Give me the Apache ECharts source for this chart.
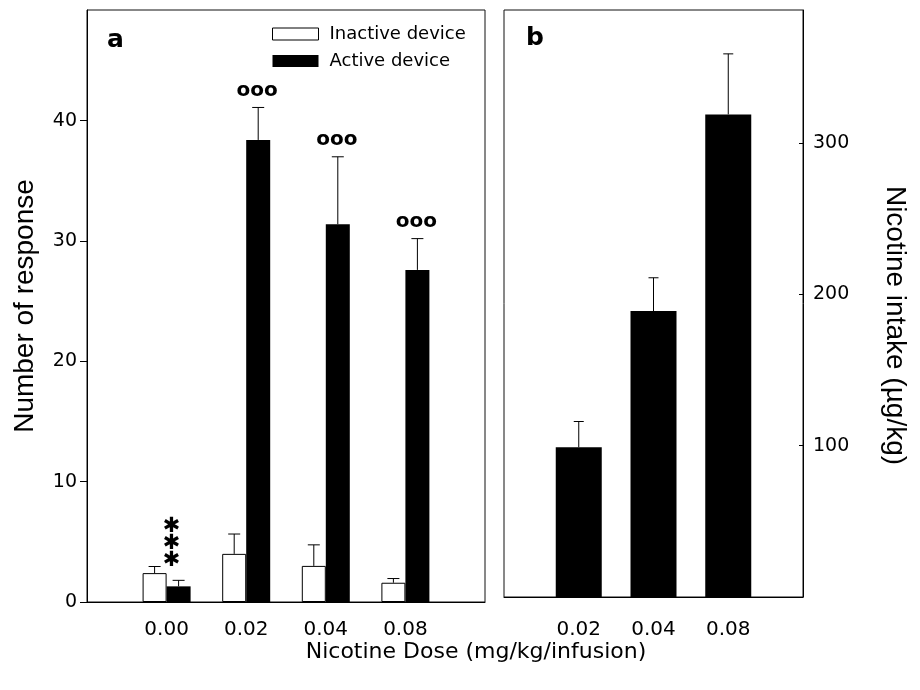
<!DOCTYPE html>
<html>
<head>
<meta charset="utf-8">
<script src="https://cdn.jsdelivr.net/npm/echarts@6/dist/echarts.min.js"></script>
<style>
  html, body { margin: 0; padding: 0; background: #fff; }
  #main { width: 920px; height: 690px; }
</style>
</head>
<body>
<div id="main"></div>
<script>
// panel a: responses per dose
var dosesA = ['0.00', '0.02', '0.04', '0.08'];
var inactiveMean = [2.4, 4.0, 3.0, 1.6];
var inactiveSem = [0.55, 1.65, 1.75, 0.35];
var activeMean = [1.3, 38.4, 31.4, 27.6];
var activeSem = [0.5, 2.7, 5.6, 2.6];
var activeMarks = ['***', 'ooo', 'ooo', 'ooo'];

// panel b: nicotine intake
var dosesB = ['0.02', '0.04', '0.08'];
var intakeMean = [99, 189, 319];
var intakeSem = [17, 22, 40];

var ticksA = [0, 10, 20, 30, 40];
var ticksB = [100, 200, 300];

var chartDom = document.getElementById('main');
var myChart = echarts.init(chartDom);
var option;

var sans = '"DejaVu Sans", sans-serif';
var arial = '"Liberation Sans", Arial, sans-serif';

function padCats(arr) {
    return [''].concat(arr, [' ']);
}
function pairs(arr) {
    return arr.map(function (v, i) { return [i + 1, v]; });
}
function errData(mean, sem) {
    return mean.map(function (v, i) { return [i + 1, v, sem[i]]; });
}

function errRenderer(offset, half, marks) {
    return function (params, api) {
        var x = api.value(0), m = api.value(1), s = api.value(2);
        var p0 = api.coord([x, m]);
        var p1 = api.coord([x, m + s]);
        var cx = p0[0] + offset;
        var children = [
            { type: 'line', shape: { x1: cx, y1: p0[1], x2: cx, y2: p1[1] }, style: { stroke: '#000', lineWidth: 1 } },
            { type: 'line', shape: { x1: cx - half, y1: p1[1], x2: cx + half, y2: p1[1] }, style: { stroke: '#000', lineWidth: 1 } }
        ];
        var mark = marks ? marks[params.dataIndex] : null;
        if (mark === 'ooo') {
            children.push({ type: 'text', x: cx - 1, y: p1[1] - 17,
                style: { text: 'ooo', fill: '#000', font: 'bold 20px ' + sans, align: 'center', verticalAlign: 'middle' } });
        } else if (mark === '***') {
            for (var k = 0; k < 3; k++) {
                children.push({ type: 'text', x: cx - 7, y: p1[1] - 20 - k * 16.7,
                    style: { text: '\u2731', fill: '#000', font: '21px ' + sans, align: 'center', verticalAlign: 'middle' } });
            }
        }
        return { type: 'group', children: children };
    };
}

option = {
    backgroundColor: '#fff',
    animation: false,
    legend: {
        orient: 'vertical',
        left: 272,
        top: 25,
        padding: 0,
        itemWidth: 46,
        itemHeight: 12,
        itemGap: 9,
        textStyle: { fontFamily: sans, fontSize: 18, color: '#000', padding: [0, 0, 0, 6] },
        data: [
            { name: 'Inactive device', icon: 'rect', itemStyle: { color: '#fff', borderColor: '#000', borderWidth: 1 } },
            { name: 'Active device', icon: 'rect', itemStyle: { color: '#000' } }
        ]
    },
    grid: [
        { left: 87, top: 10, width: 398, height: 592, show: true, borderColor: '#111', borderWidth: 1 },
        { left: 504, top: 10, width: 299, height: 587, show: true, borderColor: '#111', borderWidth: 1 }
    ],
    xAxis: [
        {
            type: 'category', gridIndex: 0, data: padCats(dosesA), boundaryGap: false,
            axisLine: { lineStyle: { color: '#000' } },
            axisTick: { show: false },
            axisLabel: { interval: 0, margin: 18, color: '#000', fontFamily: sans, fontSize: 20 },
            splitLine: { show: false }
        },
        {
            type: 'category', gridIndex: 1, data: padCats(dosesB), boundaryGap: false,
            axisLine: { lineStyle: { color: '#000' } },
            axisTick: { show: false },
            axisLabel: { interval: 0, margin: 23, color: '#000', fontFamily: sans, fontSize: 20 },
            splitLine: { show: false }
        }
    ],
    yAxis: [
        {
            type: 'value', gridIndex: 0, min: 0, max: 49.2, interval: 10,
            name: 'Number of response', nameLocation: 'middle', nameGap: 48,
            nameTextStyle: { fontFamily: arial, fontSize: 28, color: '#000' },
            axisLine: { show: true, lineStyle: { color: '#000' } },
            axisTick: { show: true, inside: false, length: 7, customValues: ticksA, lineStyle: { color: '#000' } },
            axisLabel: { margin: 10, color: '#000', fontFamily: sans, fontSize: 19, customValues: ticksA },
            splitLine: { show: false }
        },
        {
            type: 'value', gridIndex: 1, position: 'right', min: 0, max: 388, interval: 100,
            name: 'Nicotine intake (\u00b5g/kg)', nameLocation: 'middle', nameGap: 78, nameRotate: -90,
            nameTextStyle: { fontFamily: arial, fontSize: 28, color: '#000', padding: [0, 0, 0, 44] },
            axisLine: { show: true, lineStyle: { color: '#000' } },
            axisTick: { show: true, inside: true, length: 4, customValues: ticksB, lineStyle: { color: '#000' } },
            axisLabel: { margin: 10, color: '#000', fontFamily: sans, fontSize: 19, customValues: ticksB },
            splitLine: { show: false }
        }
    ],
    graphic: [
        { type: 'text', left: 107, top: 28, style: { text: 'a', fill: '#000', font: 'bold 25px ' + sans } },
        { type: 'text', left: 526, top: 26, style: { text: 'b', fill: '#000', font: 'bold 25px ' + sans } },
        { type: 'text', x: 476, y: 652, style: { text: 'Nicotine Dose (mg/kg/infusion)', fill: '#000', font: '22px ' + sans, align: 'center', verticalAlign: 'middle' } }
    ],
    series: [
        {
            name: 'Inactive device', type: 'bar', xAxisIndex: 0, yAxisIndex: 0,
            barWidth: 24, barGap: '0%',
            itemStyle: { color: '#fff', borderColor: '#000', borderWidth: 1 },
            data: pairs(inactiveMean)
        },
        {
            name: 'Active device', type: 'bar', xAxisIndex: 0, yAxisIndex: 0,
            barWidth: 24, barGap: '0%',
            itemStyle: { color: '#000' },
            data: pairs(activeMean)
        },
        {
            name: 'inactiveErr', type: 'custom', xAxisIndex: 0, yAxisIndex: 0, z: 5,
            renderItem: errRenderer(-12, 6, null),
            data: errData(inactiveMean, inactiveSem)
        },
        {
            name: 'activeErr', type: 'custom', xAxisIndex: 0, yAxisIndex: 0, z: 5,
            renderItem: errRenderer(12, 6, activeMarks),
            data: errData(activeMean, activeSem)
        },
        {
            name: 'Intake', type: 'bar', xAxisIndex: 1, yAxisIndex: 1,
            barWidth: 46,
            itemStyle: { color: '#000' },
            data: pairs(intakeMean)
        },
        {
            name: 'intakeErr', type: 'custom', xAxisIndex: 1, yAxisIndex: 1, z: 5,
            renderItem: errRenderer(0, 5, null),
            data: errData(intakeMean, intakeSem)
        }
    ]
};

option && myChart.setOption(option);
</script>
</body>
</html>
